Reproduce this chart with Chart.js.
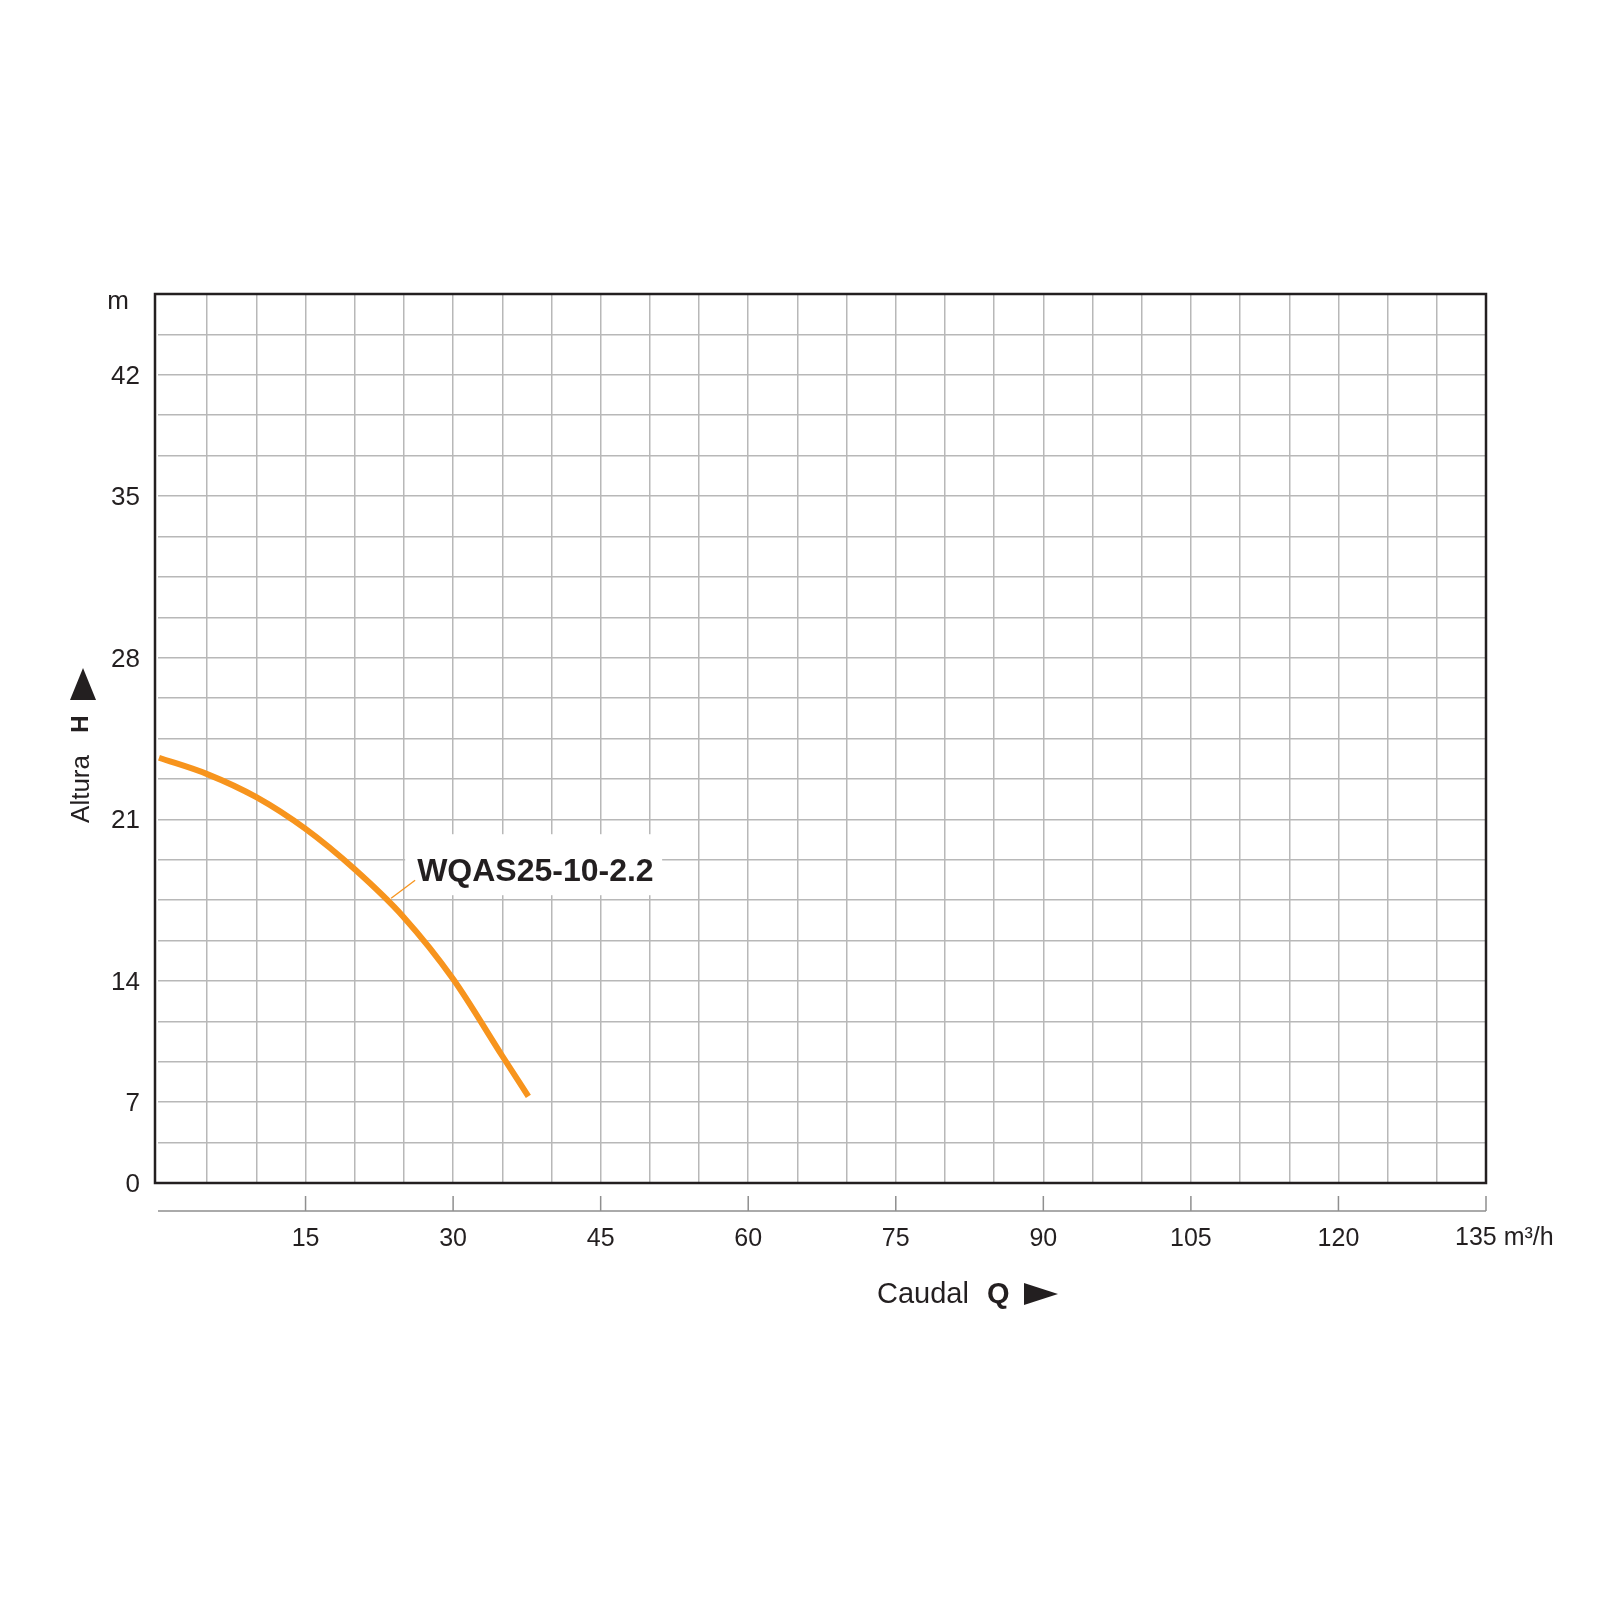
<!DOCTYPE html>
<html>
<head>
<meta charset="utf-8">
<title>WQAS25-10-2.2</title>
<script src="https://cdn.jsdelivr.net/npm/chart.js@4/dist/chart.umd.min.js"></script>
<style>
  html, body { margin: 0; padding: 0; background: #ffffff; }
  #wrap { width: 1600px; height: 1600px; }
</style>
</head>
<body>
<div id="wrap"><canvas id="pumpChart" width="1600" height="1600"></canvas></div>
<script>
"use strict";

// curve: Q (m3/h) against H
var flowQ = [0.1, 5, 10, 15, 20, 25, 30, 35, 37.65];
var headH = [22.1, 21.25, 20.05, 18.4, 16.3, 13.8, 10.6, 6.6, 4.5];

// axis ticks
var xTicks = [15, 30, 45, 60, 75, 90, 105, 120, 135];
var xUnit = "m\u00b3/h";
var yGridStep = 2.1;
var yGridCount = 22;
var yLabelSteps = [0, 2, 5, 9, 13, 17, 20];
var yTickLabels = ["0", "7", "14", "21", "28", "35", "42"];

var seriesName = "WQAS25-10-2.2";
var labelAnchor = { x: 23.7, y: 14.8 };

var ink = "#231f20";
var orange = "#f7941d";
var gridGray = "#b8b8b8";
var fontFamily = "'Liberation Sans', Arial, sans-serif";

(function () {
    var curve = flowQ.map(function (q, i) {
        return { x: q, y: headH[i] };
    });
    var lastTick = xTicks[xTicks.length - 1];

    var decor = {
        id: "decor",
        beforeDatasetsDraw: function (chart) {
            var ctx = chart.ctx;
            var xs = chart.scales.x, ys = chart.scales.y;
            var ax = xs.getPixelForValue(labelAnchor.x);
            var ay = ys.getPixelForValue(labelAnchor.y);
            ctx.save();
            ctx.fillStyle = "#ffffff";
            ctx.fillRect(ax + 14, ay - 64, 257, 61);
            ctx.strokeStyle = orange;
            ctx.lineWidth = 1.3;
            ctx.beginPath();
            ctx.moveTo(ax, ay);
            ctx.lineTo(ax + 24, ay - 18);
            ctx.stroke();
            ctx.fillStyle = ink;
            ctx.font = "bold 32px " + fontFamily;
            ctx.textAlign = "left";
            ctx.textBaseline = "alphabetic";
            ctx.fillText(seriesName, ax + 26, ay - 17);
            ctx.restore();
        },
        afterDraw: function (chart) {
            var ctx = chart.ctx;
            var a = chart.chartArea;
            var xs = chart.scales.x;
            ctx.save();

            // frame
            ctx.strokeStyle = ink;
            ctx.lineWidth = 2.5;
            ctx.strokeRect(a.left - 3, a.top, a.right - a.left + 3, a.bottom - a.top);

            // separate Q axis line with ticks
            var lineY = a.bottom + 28;
            ctx.strokeStyle = "#8f8f8f";
            ctx.lineWidth = 1.5;
            ctx.beginPath();
            ctx.moveTo(a.left, lineY);
            ctx.lineTo(a.right, lineY);
            xTicks.forEach(function (v) {
                var px = xs.getPixelForValue(v);
                ctx.moveTo(px, lineY);
                ctx.lineTo(px, lineY - 15);
            });
            ctx.stroke();

            ctx.fillStyle = ink;
            ctx.textBaseline = "alphabetic";

            // units
            ctx.font = "26px " + fontFamily;
            ctx.textAlign = "center";
            ctx.fillText("m", 118, a.top + 15);
            ctx.font = "25px " + fontFamily;
            ctx.textAlign = "left";
            ctx.fillText(lastTick + " " + xUnit, xs.getPixelForValue(lastTick) - 31, a.bottom + 62);

            // Q title
            ctx.font = "29px " + fontFamily;
            ctx.fillText("Caudal", 877, 1303);
            ctx.font = "bold 29px " + fontFamily;
            ctx.fillText("Q", 987, 1303);
            ctx.beginPath();
            ctx.moveTo(1024, 1283);
            ctx.lineTo(1058, 1294);
            ctx.lineTo(1024, 1305);
            ctx.closePath();
            ctx.fill();

            // H title (rotated)
            ctx.save();
            ctx.translate(89, 789);
            ctx.rotate(-Math.PI / 2);
            ctx.textAlign = "center";
            ctx.font = "26px " + fontFamily;
            ctx.fillText("Altura", 0, 0);
            ctx.restore();
            ctx.save();
            ctx.translate(88, 724);
            ctx.rotate(-Math.PI / 2);
            ctx.textAlign = "center";
            ctx.font = "bold 24px " + fontFamily;
            ctx.fillText("H", 0, 0);
            ctx.restore();
            ctx.beginPath();
            ctx.moveTo(83, 668);
            ctx.lineTo(96, 700);
            ctx.lineTo(70, 700);
            ctx.closePath();
            ctx.fill();

            ctx.restore();
        }
    };

    function gridColor(c) {
        return c.tick && c.tick.value === 0 ? "rgba(0,0,0,0)" : gridGray;
    }

    var ctx = document.getElementById("pumpChart").getContext("2d");
    var chart = new Chart(ctx, {
        type: "line",
        data: {
            datasets: [{
                label: seriesName,
                data: curve,
                borderColor: orange,
                borderWidth: 6,
                pointRadius: 0,
                fill: false,
                cubicInterpolationMode: "monotone"
            }]
        },
        options: {
            responsive: false,
            animation: false,
            devicePixelRatio: 1,
            layout: { padding: { top: 294, right: 114, bottom: 0, left: 0 } },
            plugins: {
                legend: { display: false },
                tooltip: { enabled: false }
            },
            scales: {
                x: {
                    type: "linear",
                    min: 0,
                    max: 135,
                    border: { display: false },
                    grid: { color: gridColor, lineWidth: 1.5, drawTicks: false },
                    ticks: {
                        stepSize: 5,
                        autoSkip: false,
                        maxRotation: 0,
                        padding: 41,
                        color: ink,
                        font: { family: fontFamily, size: 25 },
                        callback: function (value) {
                            if (value === lastTick) {
                                return "";
                            }
                            return xTicks.indexOf(value) >= 0 ? String(value) : "";
                        }
                    },
                    afterFit: function (scale) {
                        scale.height = 417;
                    }
                },
                y: {
                    type: "linear",
                    min: 0,
                    max: yGridStep * yGridCount,
                    border: { display: false },
                    grid: { color: gridGray, lineWidth: 1.5, drawTicks: false },
                    ticks: {
                        autoSkip: false,
                        padding: 18,
                        labelOffset: 2,
                        color: ink,
                        font: { family: fontFamily, size: 26 },
                        callback: function (value, index) {
                            var k = yLabelSteps.indexOf(index);
                            return k >= 0 ? yTickLabels[k] : "";
                        }
                    },
                    afterBuildTicks: function (scale) {
                        var t = [];
                        for (var k = 0; k <= yGridCount; k++) {
                            t.push({ value: k * yGridStep });
                        }
                        scale.ticks = t;
                    },
                    afterFit: function (scale) {
                        scale.width = 158;
                    }
                }
            }
        },
        plugins: [decor]
    });
})();
</script>
</body>
</html>
